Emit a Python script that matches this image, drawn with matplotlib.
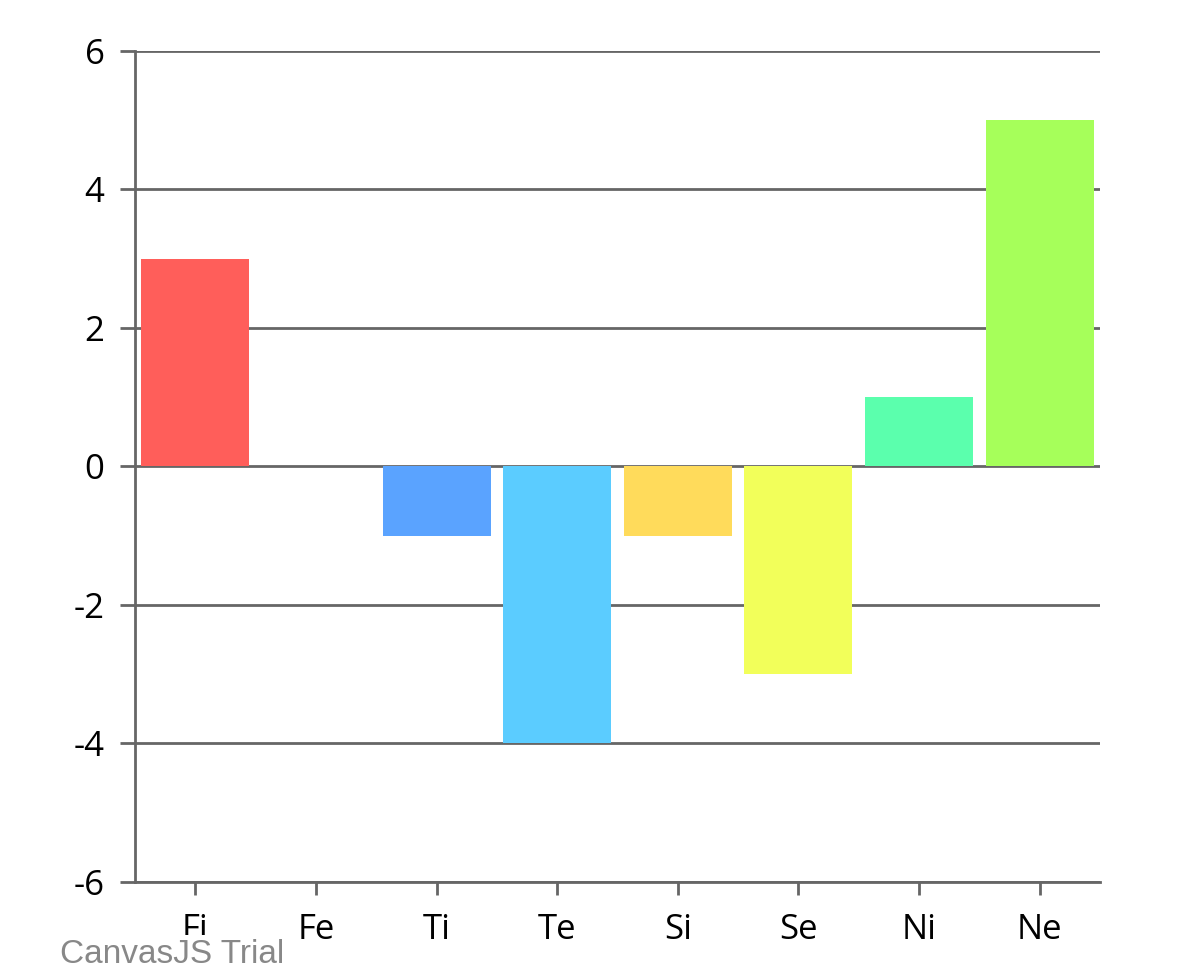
import matplotlib
matplotlib.use("Agg")
import matplotlib.pyplot as plt

categories = ["Fi", "Fe", "Ti", "Te", "Si", "Se", "Ni", "Ne"]
values = [3, 0, -1, -4, -1, -3, 1, 5]
colors = ["#FF5E5A", "#FF9F5A", "#5AA3FF", "#5BCCFF", "#FFDB5B", "#F2FF5A", "#5BFFAD", "#A6FF5A"]
yticks = [-6, -4, -2, 0, 2, 4, 6]

fig = plt.figure(figsize=(12, 9.8), dpi=100)
ax = fig.add_axes([0.1125, 0.1, 0.9167 - 0.1125, 0.948 - 0.1])

x = list(range(len(categories)))
ax.bar(x, values, width=0.895, color=colors, zorder=3, linewidth=0)

gcol = "#666666"
ax.set_xlim(-0.5, len(categories) - 0.5)
ax.set_ylim(-6, 6)
ax.set_yticks(yticks)
ax.set_yticklabels([str(v) for v in yticks])
ax.set_xticks(x)
ax.set_xticklabels(categories)
ax.yaxis.grid(True, color=gcol, linewidth=2, zorder=1)
ax.set_axisbelow(True)

for s in ["top", "right"]:
    ax.spines[s].set_visible(False)
for s in ["left", "bottom"]:
    ax.spines[s].set_color(gcol)
    ax.spines[s].set_linewidth(2)
    ax.spines[s].set_zorder(4)

ax.tick_params(axis="y", direction="out", length=11, width=2, color=gcol,
               labelsize=25, pad=11, labelcolor="black")
ax.tick_params(axis="x", direction="out", length=9.5, width=2, color=gcol,
               labelsize=25, pad=13, labelcolor="black")
for lab in ax.get_xticklabels() + ax.get_yticklabels():
    lab.set_fontfamily("Open Sans")

fig.text(60 / 1200, 1 - 954 / 980, "CanvasJS Trial", fontsize=24, color="#888888",
         family="Liberation Sans", ha="left", va="center", zorder=10,
         bbox=dict(facecolor="white", edgecolor="none", pad=2.5))

fig.savefig("out.png", dpi=100, facecolor="white")
